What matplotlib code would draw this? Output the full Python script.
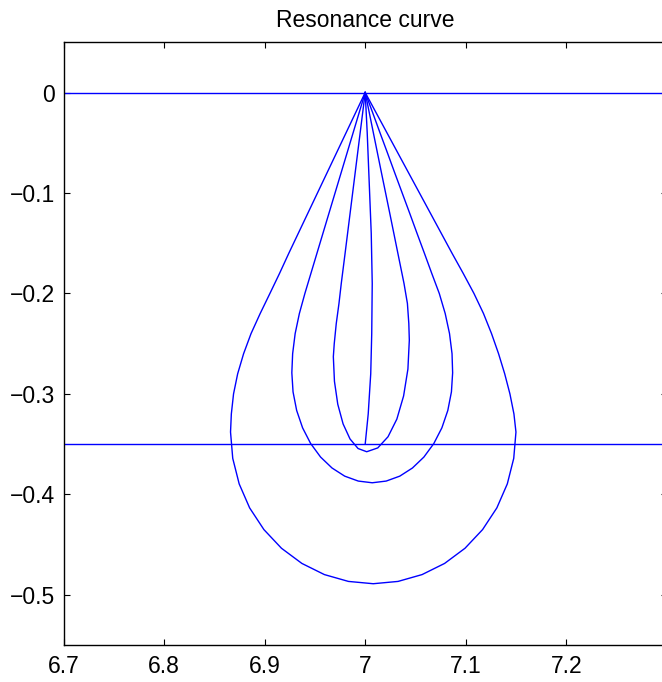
import matplotlib
matplotlib.use("Agg")
import matplotlib.pyplot as plt

plt.rcParams['font.family'] = ['Liberation Sans', 'DejaVu Sans']

# ---- data ----
outer_x = [7.000, 6.9905, 6.981, 6.9715, 6.962, 6.9525, 6.943, 6.9335, 6.924, 6.9148,
           6.9052, 6.8955, 6.8864, 6.8790, 6.8731, 6.8690, 6.8668, 6.866,
           6.8682, 6.8746, 6.8850, 6.8992, 6.9167, 6.9370, 6.9594, 6.9833, 7.008,
           7.0327, 7.0566, 7.0790, 7.0993, 7.1168, 7.1310, 7.1414, 7.1478, 7.150,
           7.1480, 7.1440, 7.1388, 7.1327, 7.1257, 7.1177, 7.1082, 7.0975, 7.0864, 7.0756,
           7.0648, 7.054, 7.0432, 7.0324, 7.0216, 7.0108, 7.000]
outer_y = [0.000, -0.02, -0.04, -0.06, -0.08, -0.10, -0.12, -0.14, -0.16, -0.18,
           -0.20, -0.22, -0.24, -0.26, -0.28, -0.30, -0.32, -0.338,
           -0.3642, -0.3896, -0.4135, -0.4351, -0.4537, -0.4688, -0.4799, -0.4867, -0.489,
           -0.4867, -0.4799, -0.4688, -0.4537, -0.4351, -0.4135, -0.3896, -0.3642, -0.338,
           -0.32, -0.30, -0.28, -0.26, -0.24, -0.22, -0.20, -0.18, -0.16, -0.14,
           -0.12, -0.10, -0.08, -0.06, -0.04, -0.02, 0.000]

mid_x = [7.000, 6.994, 6.988, 6.982, 6.976, 6.970, 6.964, 6.958, 6.952, 6.946,
         6.940, 6.9345, 6.9303, 6.9278, 6.927,
         6.9282, 6.9318, 6.9377, 6.9457, 6.9556, 6.9670, 6.9796, 6.9931, 7.007,
         7.0209, 7.0344, 7.0470, 7.0584, 7.0683, 7.0763, 7.0822, 7.0858, 7.087,
         7.0864, 7.0839, 7.0796, 7.0737, 7.0662, 7.0589, 7.0515, 7.0442, 7.0368,
         7.0294, 7.0221, 7.0147, 7.0074, 7.000]
mid_y = [0.000, -0.02, -0.04, -0.06, -0.08, -0.10, -0.12, -0.14, -0.16, -0.18,
         -0.20, -0.22, -0.24, -0.26, -0.279,
         -0.2980, -0.3165, -0.3338, -0.3494, -0.3629, -0.3738, -0.3819, -0.3868, -0.3885,
         -0.3868, -0.3819, -0.3738, -0.3629, -0.3494, -0.3338, -0.3165, -0.2980, -0.279,
         -0.26, -0.24, -0.22, -0.20, -0.18, -0.16, -0.14, -0.12, -0.10,
         -0.08, -0.06, -0.04, -0.02, 0.000]

inner_x = [7.000, 6.995, 6.990, 6.985, 6.980, 6.9762, 6.9739, 6.9712, 6.9692, 6.9683,
           6.9694, 6.9727, 6.9780, 6.9849, 6.9929, 7.0015, 7.0125, 7.0227, 7.0315,
           7.0382, 7.0425, 7.0439, 7.0434, 7.0420, 7.0386, 7.0325, 7.0244, 7.0162,
           7.0081, 7.000]
inner_y = [0.000, -0.04, -0.08, -0.12, -0.16, -0.19, -0.21, -0.23, -0.25, -0.263,
           -0.2875, -0.3103, -0.3299, -0.3449, -0.3544, -0.3576, -0.3538, -0.3427, -0.3251,
           -0.3021, -0.2753, -0.2465, -0.23, -0.21, -0.19, -0.16, -0.12, -0.08,
           -0.04, 0.000]

thin_x = [7.000, 7.002, 7.004, 7.006, 7.007, 7.0065, 7.0055, 7.003, 7.000]
thin_y = [0.000, -0.04, -0.09, -0.14, -0.19, -0.24, -0.28, -0.32, -0.350]

hlines_y = [0.0, -0.35]

xticks = [6.7, 6.8, 6.9, 7.0, 7.1, 7.2, 7.3]
xtick_labels = ['6.7', '6.8', '6.9', '7', '7.1', '7.2', '']
yticks = [-0.5, -0.4, -0.3, -0.2, -0.1, 0.0]
ytick_labels = ['\u22120.5', '\u22120.4', '\u22120.3', '\u22120.2', '\u22120.1', '0']

title = 'Resonance curve'

# ---- figure ----
W, H = 662, 682
fig = plt.figure(figsize=(W / 100, H / 100), dpi=100)
ax = fig.add_axes([63.7 / W, (H - 645) / H, (666.7 - 63.7) / W, (645 - 42.3) / H])

col = '#0000ff'
lw = 1.0
for yv in hlines_y:
    ax.axhline(yv, color=col, lw=lw)
for xs, ys in [(outer_x, outer_y), (mid_x, mid_y), (inner_x, inner_y), (thin_x, thin_y)]:
    ax.plot(xs, ys, color=col, lw=lw, solid_joinstyle='round')

ax.set_xlim(6.7, 7.3)
ax.set_ylim(-0.55, 0.05)
ax.set_xticks(xticks)
ax.set_xticklabels(xtick_labels)
ax.set_yticks(yticks)
ax.set_yticklabels(ytick_labels)
ax.tick_params(direction='in', length=4.5, width=0.8, top=True, right=True,
               labelsize=16.5, colors='black')
ax.tick_params(axis='x', pad=7)
ax.tick_params(axis='y', pad=6)
for s in ax.spines.values():
    s.set_linewidth(1.0)
ax.set_title(title, fontsize=16.5, pad=11)

fig.savefig('out.png', dpi=100)
